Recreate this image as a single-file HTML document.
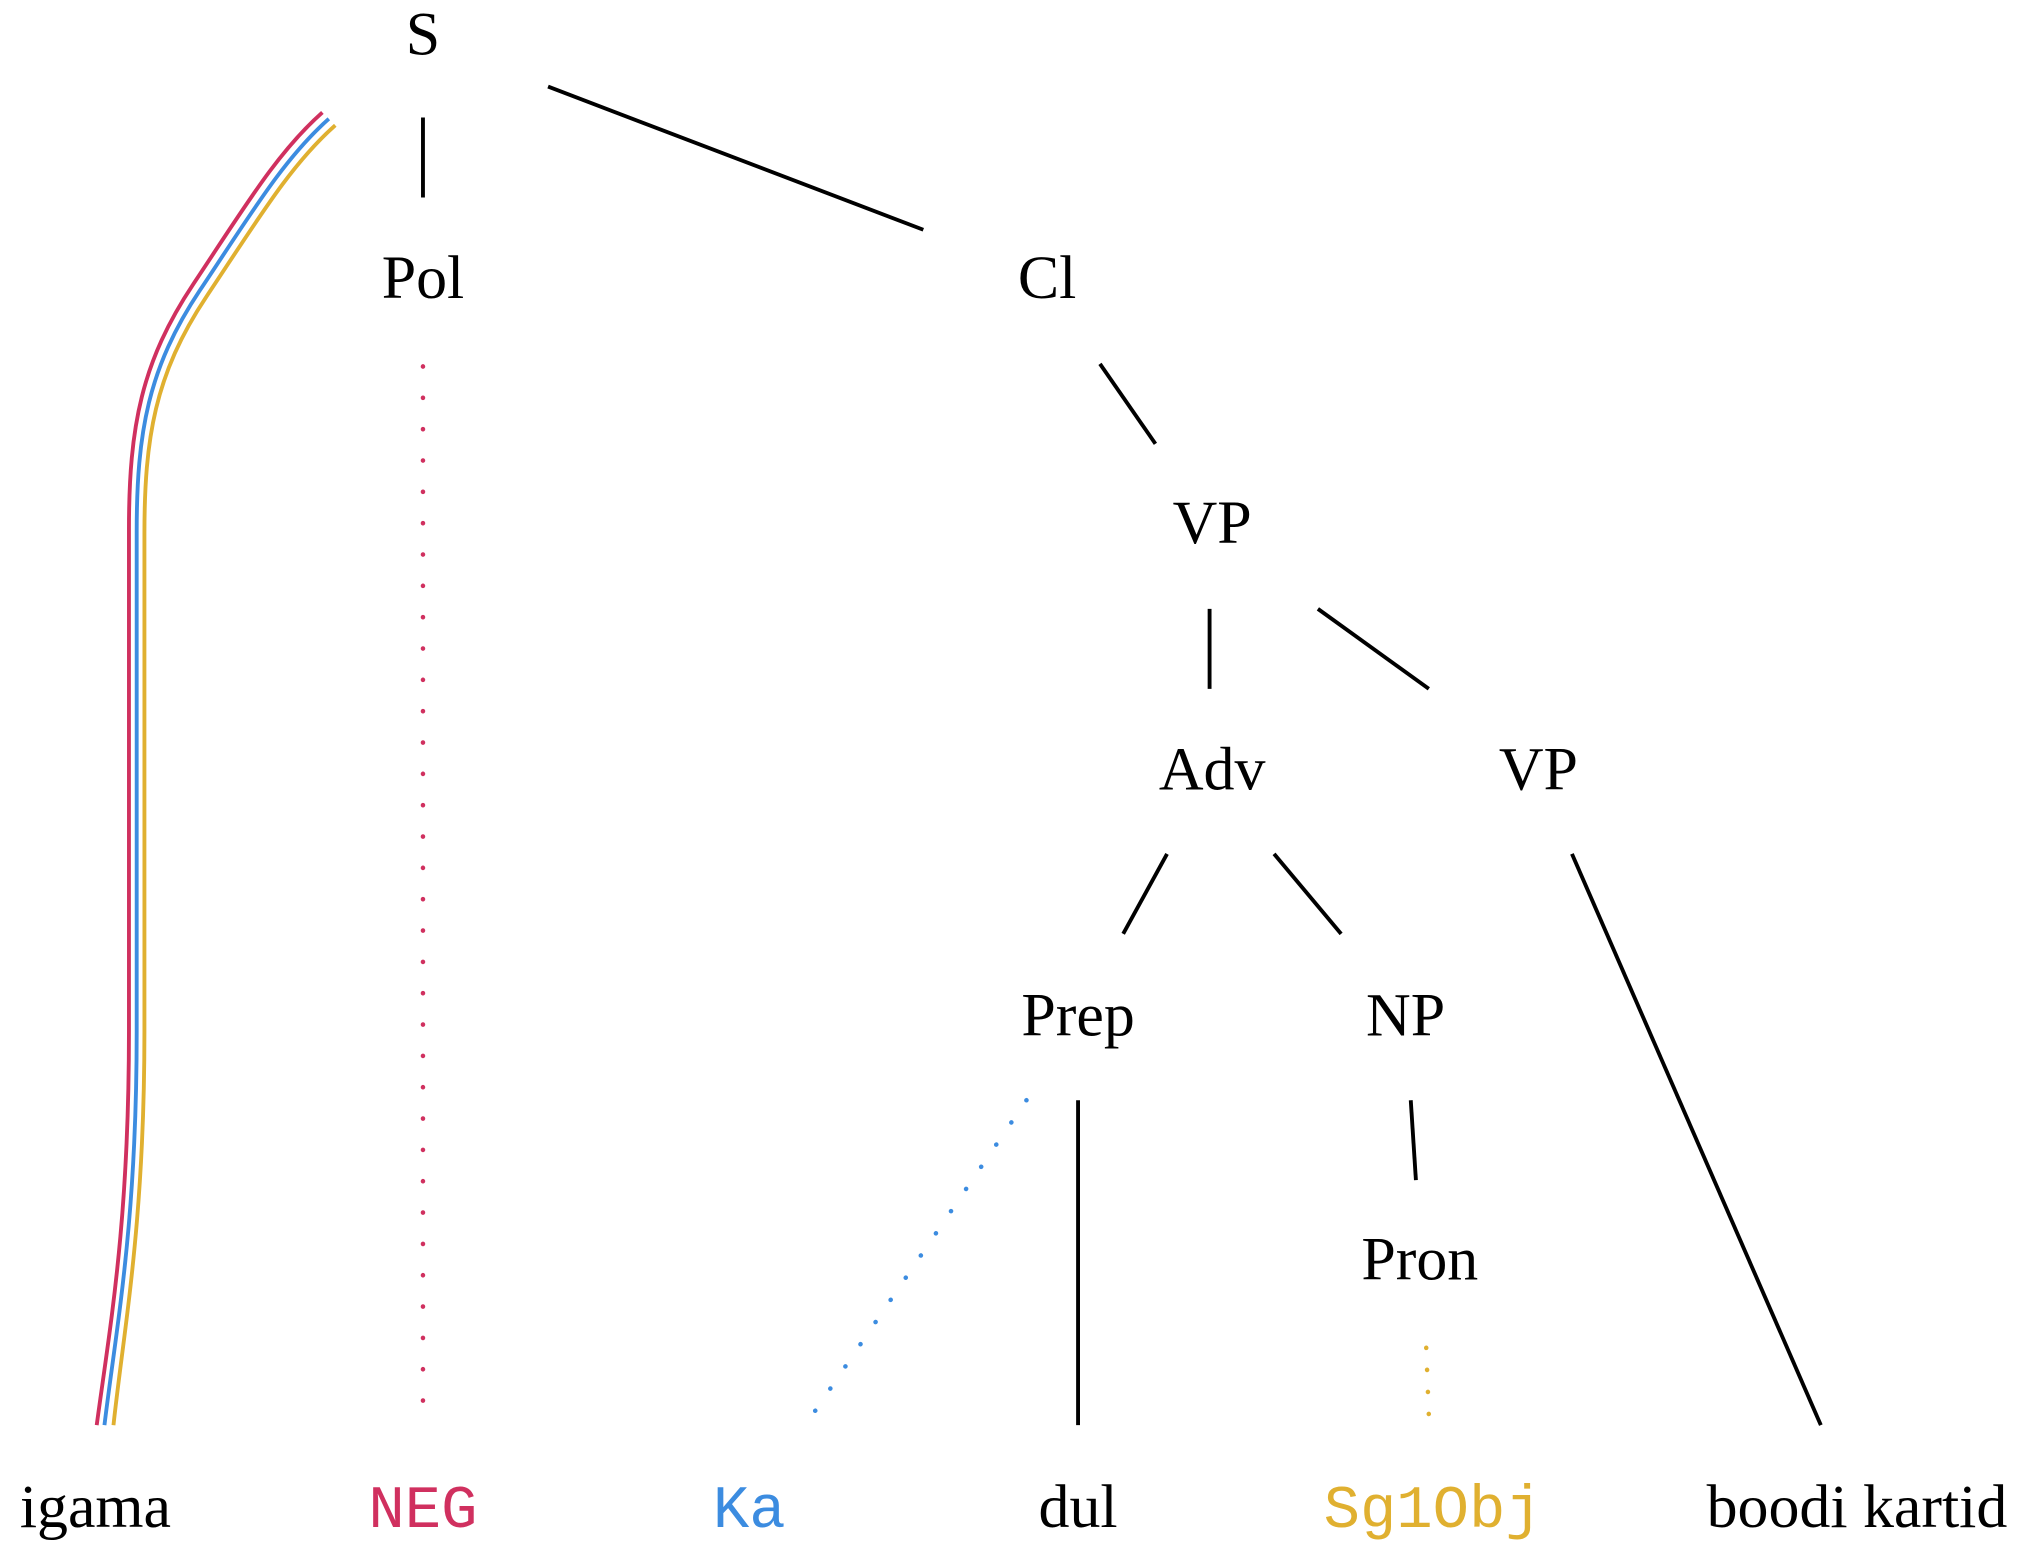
<!DOCTYPE html>
<html><head><meta charset="utf-8"><style>
html,body{margin:0;padding:0;background:#fff}
svg{display:block}
.t{font-family:"Liberation Serif",serif;font-size:48px;fill:#000;text-anchor:middle}
.m{font-family:"Liberation Mono",monospace;font-size:47px;text-anchor:middle}
.l{stroke:#000;stroke-width:3;fill:none}
</style></head><body>
<svg width="2022" height="1544" viewBox="0 0 1568 1197">
<g>
<text class="t" x="328" y="42">S</text>
<text class="t" x="328" y="231">Pol</text>
<text class="t" x="812" y="231">Cl</text>
<text class="t" x="940" y="421">VP</text>
<text class="t" x="940" y="612">Adv</text>
<text class="t" x="1193" y="612">VP</text>
<text class="t" x="836" y="803">Prep</text>
<text class="t" x="1090" y="803">NP</text>
<text class="t" x="1101" y="992">Pron</text>
</g>
<g>
<text class="t" x="74" y="1184">igama</text>
<text class="m" x="328" y="1184" fill="#d0305f">NEG</text>
<text class="m" x="581" y="1184" fill="#3c8ce0">Ka</text>
<text class="t" x="836" y="1184">dul</text>
<text class="m" x="1111" y="1184" fill="#e0b030">Sg1Obj</text>
<text class="t" x="1440" y="1184">boodi kartid</text>
</g>
<g>
<line class="l" x1="328" y1="91" x2="328" y2="153"/>
<line class="l" x1="425" y1="67" x2="716" y2="178"/>
<line class="l" x1="853" y1="282" x2="896" y2="344"/>
<line class="l" x1="938" y1="472" x2="938" y2="534"/>
<line class="l" x1="1022" y1="472" x2="1108" y2="534"/>
<line class="l" x1="905" y1="662" x2="871" y2="724"/>
<line class="l" x1="988" y1="662" x2="1040" y2="724"/>
<line class="l" x1="836" y1="853" x2="836" y2="1105"/>
<line class="l" x1="1094" y1="853" x2="1098" y2="915"/>
<line class="l" x1="1219" y1="662" x2="1412" y2="1105"/>
<line x1="328" y1="284" x2="328" y2="1100" stroke="#d0305f" stroke-width="3.5" stroke-dasharray="0.1 24.2" stroke-linecap="round"/>
<line x1="796" y1="853" x2="628" y2="1100" stroke="#3c8ce0" stroke-width="3.5" stroke-dasharray="0.1 20.7" stroke-linecap="round"/>
<line x1="1106" y1="1045" x2="1108" y2="1097" stroke="#e0b030" stroke-width="3.5" stroke-dasharray="0.1 17" stroke-linecap="round"/>
</g>
<g fill="none" stroke-width="3">
<path d="M250,87 C215,118 190,160 150,220 C110,280 100,330 100,410 L100,800 C100,950 85,1030 75,1105" stroke="#d0305f"/>
<path d="M255,92 C220,123 195,165 155,225 C115,285 106,335 106,412 L106,800 C106,950 90,1030 81,1105" stroke="#3c8ce0"/>
<path d="M260,97 C225,128 200,170 160,230 C120,290 112,340 112,414 L112,800 C112,950 96,1030 88,1105" stroke="#e0b030"/>
</g>
</svg>
</body></html>
